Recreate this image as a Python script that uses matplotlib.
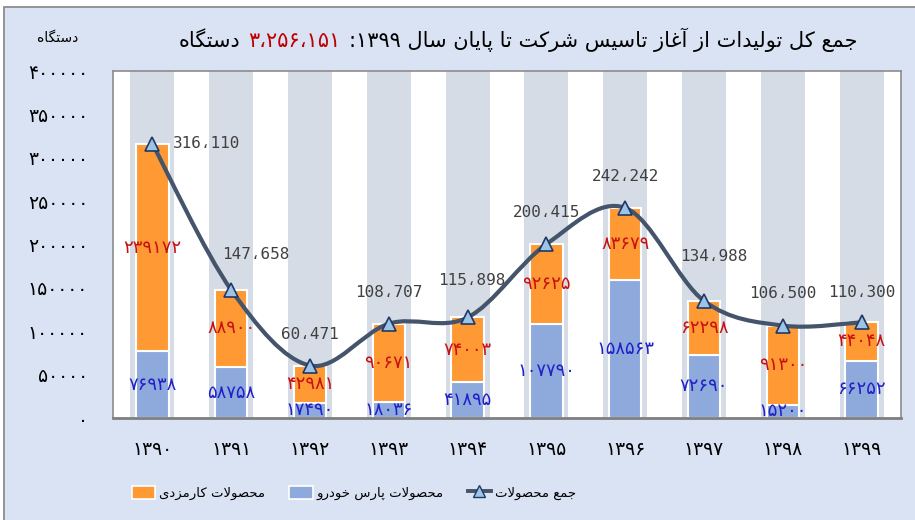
import re
import numpy as np
import matplotlib
matplotlib.use('Agg')
import matplotlib.pyplot as plt
from matplotlib.path import Path
from matplotlib.patches import PathPatch, Patch, Rectangle
from matplotlib.lines import Line2D
from matplotlib.offsetbox import TextArea, HPacker, AnnotationBbox

# ---------------- data ----------------
years = ['1390', '1391', '1392', '1393', '1394', '1395', '1396', '1397', '1398', '1399']
pars_khodro = [76938, 58758, 17490, 18036, 41895, 107790, 158563, 72690, 15200, 66252]
karmozdi = [239172, 88900, 42981, 90671, 74003, 92625, 83679, 62298, 91300, 44048]
totals = [316110, 147658, 60471, 108707, 115898, 200415, 242242, 134988, 106500, 110300]
y_ticks = [0, 50000, 100000, 150000, 200000, 250000, 300000, 350000, 400000]
title_main = 'جمع کل تولیدات از آغاز تاسیس شرکت تا پایان سال ۱۳۹۹:'
title_number = '۳،۲۵۶،۱۵۱'
title_unit = 'دستگاه'
y_unit = 'دستگاه'
legend_labels = ['محصولات کارمزدی', 'محصولات پارس خودرو', 'جمع محصولات']

# ---------------- Persian text helpers ----------------
FORMS = {
    '\u0627': ('\uFE8D', '\uFE8E', None, None),
    '\u0622': ('\uFE81', '\uFE82', None, None),
    '\u0628': ('\uFE8F', '\uFE90', '\uFE91', '\uFE92'),
    '\u067E': ('\uFB56', '\uFB57', '\uFB58', '\uFB59'),
    '\u062A': ('\uFE95', '\uFE96', '\uFE97', '\uFE98'),
    '\u062B': ('\uFE99', '\uFE9A', '\uFE9B', '\uFE9C'),
    '\u062C': ('\uFE9D', '\uFE9E', '\uFE9F', '\uFEA0'),
    '\u0686': ('\uFB7A', '\uFB7B', '\uFB7C', '\uFB7D'),
    '\u062D': ('\uFEA1', '\uFEA2', '\uFEA3', '\uFEA4'),
    '\u062E': ('\uFEA5', '\uFEA6', '\uFEA7', '\uFEA8'),
    '\u062F': ('\uFEA9', '\uFEAA', None, None),
    '\u0630': ('\uFEAB', '\uFEAC', None, None),
    '\u0631': ('\uFEAD', '\uFEAE', None, None),
    '\u0632': ('\uFEAF', '\uFEB0', None, None),
    '\u0698': ('\uFB8A', '\uFB8B', None, None),
    '\u0633': ('\uFEB1', '\uFEB2', '\uFEB3', '\uFEB4'),
    '\u0634': ('\uFEB5', '\uFEB6', '\uFEB7', '\uFEB8'),
    '\u0635': ('\uFEB9', '\uFEBA', '\uFEBB', '\uFEBC'),
    '\u0636': ('\uFEBD', '\uFEBE', '\uFEBF', '\uFEC0'),
    '\u0637': ('\uFEC1', '\uFEC2', '\uFEC3', '\uFEC4'),
    '\u0638': ('\uFEC5', '\uFEC6', '\uFEC7', '\uFEC8'),
    '\u0639': ('\uFEC9', '\uFECA', '\uFECB', '\uFECC'),
    '\u063A': ('\uFECD', '\uFECE', '\uFECF', '\uFED0'),
    '\u0641': ('\uFED1', '\uFED2', '\uFED3', '\uFED4'),
    '\u0642': ('\uFED5', '\uFED6', '\uFED7', '\uFED8'),
    '\u06A9': ('\uFB8E', '\uFB8F', '\uFB90', '\uFB91'),
    '\u06AF': ('\uFB92', '\uFB93', '\uFB94', '\uFB95'),
    '\u0644': ('\uFEDD', '\uFEDE', '\uFEDF', '\uFEE0'),
    '\u0645': ('\uFEE1', '\uFEE2', '\uFEE3', '\uFEE4'),
    '\u0646': ('\uFEE5', '\uFEE6', '\uFEE7', '\uFEE8'),
    '\u0648': ('\uFEED', '\uFEEE', None, None),
    '\u0647': ('\uFEE9', '\uFEEA', '\uFEEB', '\uFEEC'),
    '\u06CC': ('\uFBFC', '\uFBFD', '\uFBFE', '\uFBFF'),
}
LAM_ALEF = {'\u0627': ('\uFEFB', '\uFEFC'), '\u0622': ('\uFEF5', '\uFEF6')}


def shape(s):
    out = []
    i = 0
    n = len(s)
    while i < n:
        ch = s[i]
        if ch not in FORMS:
            out.append(ch)
            i += 1
            continue
        prev = s[i - 1] if i > 0 else ''
        prev_joins = prev in FORMS and FORMS[prev][2] is not None
        if ch == '\u0644' and i + 1 < n and s[i + 1] in LAM_ALEF:
            iso, fin = LAM_ALEF[s[i + 1]]
            out.append(fin if prev_joins else iso)
            i += 2
            continue
        nxt = s[i + 1] if i + 1 < n else ''
        dual = FORMS[ch][2] is not None
        next_joins = dual and nxt in FORMS
        iso, fin, ini, med = FORMS[ch]
        if prev_joins and next_joins:
            out.append(med)
        elif prev_joins:
            out.append(fin)
        elif next_joins:
            out.append(ini)
        else:
            out.append(iso)
        i += 1
    return ''.join(out)


NUM_RE = re.compile(r'[0-9\u06F0-\u06F9](?:[0-9\u06F0-\u06F9\u060C.,]*[0-9\u06F0-\u06F9])?')


def visual(s):
    shaped = shape(s)
    tokens = []
    pos = 0
    for m in NUM_RE.finditer(shaped):
        tokens.extend(list(shaped[pos:m.start()]))
        tokens.append(m.group(0))
        pos = m.end()
    tokens.extend(list(shaped[pos:]))
    return ''.join(reversed(tokens))


FA_DIGITS = str.maketrans('0123456789', '۰۱۲۳۴۵۶۷۸۹')


def fa(v):
    return str(v).translate(FA_DIGITS)


def total_fmt(v):
    return f'{v:,}'.replace(',', '\u060C')


# ---------------- style ----------------
W, H, DPI = 915, 520, 100
BG = '#DAE3F3'
ORANGE = '#FF9933'
BLUE = '#8EA9DB'
BAND = '#D6DCE5'
LINE = '#44546A'
RED_TXT = '#C81010'
BLUE_TXT = '#2020C8'
plt.rcParams['font.family'] = ['DejaVu Sans']

fig = plt.figure(figsize=(W / DPI, H / DPI), dpi=DPI)
fig.patch.set_facecolor('white')
fig.add_artist(Rectangle((4 / W, -0.05), 1.1, 1 - 7 / H + 0.05, transform=fig.transFigure,
                         facecolor=BG, edgecolor='#8C8C8C', lw=1.3, zorder=-5))

ax = fig.add_axes([113 / W, 1 - 418 / H, (901 - 113) / W, (418 - 71) / H])
ax.set_facecolor('white')
x = np.arange(len(years))
ymax = y_ticks[-1]

# background bands
ax.bar(x, [ymax] * len(x), width=0.56, color=BAND, zorder=0)

# stacked bars
ax.bar(x, pars_khodro, width=0.41, color=BLUE, edgecolor='white', lw=1.5, zorder=2)
ax.bar(x, karmozdi, bottom=pars_khodro, width=0.41, color=ORANGE, edgecolor='white', lw=1.5, zorder=2)

# segment labels
for xi, b, o in zip(x, pars_khodro, karmozdi):
    ax.text(xi, b / 2, fa(b), ha='center', va='center', fontsize=13, color=BLUE_TXT, zorder=5)
    ax.text(xi, b + o / 2, fa(o), ha='center', va='center', fontsize=13, color=RED_TXT, zorder=5)

# smooth total line (Catmull-Rom -> Bezier)
pts = np.column_stack([x, totals]).astype(float)
ext = np.vstack([pts[0], pts, pts[-1]])
verts = [tuple(pts[0])]
codes = [Path.MOVETO]
for i in range(len(pts) - 1):
    p0, p1, p2, p3 = ext[i], ext[i + 1], ext[i + 2], ext[i + 3]
    c1 = p1 + (p2 - p0) / 6.0
    c2 = p2 - (p3 - p1) / 6.0
    verts += [tuple(c1), tuple(c2), tuple(p2)]
    codes += [Path.CURVE4] * 3
ax.add_patch(PathPatch(Path(verts, codes), facecolor='none', edgecolor=LINE, lw=3.0,
                       capstyle='round', zorder=6))
ax.plot(x, totals, ls='none', marker='^', ms=10, mfc='#9DC3E6', mec='#1F3864', mew=1.2, zorder=7)

# total labels (offsets in pixels)
lab_dx = [20, 25, 0, 0, 4, 0, 0, 10, 0, 0]
lab_dy = [0, 35, 31, 31, 37, 32, 31, 44, 32, 30]
lab_ha = ['left'] + ['center'] * 9
for xi, t, dx, dy, ha in zip(x, totals, lab_dx, lab_dy, lab_ha):
    ax.annotate(total_fmt(t), (xi, t), xytext=(dx, dy), textcoords='offset pixels',
                ha=ha, va='center', fontsize=11.5,
                color='#404040', family=['DejaVu Sans Mono', 'DejaVu Sans'], zorder=8)

ax.set_xlim(-0.5, len(x) - 0.5)
ax.set_ylim(0, ymax)
ax.set_yticks(y_ticks)
ax.set_yticklabels([fa(v) for v in y_ticks], fontsize=13.5)
ax.set_xticks(x)
ax.set_xticklabels([fa(y) for y in years], fontsize=13.5)
ax.tick_params(axis='both', length=0)
ax.tick_params(axis='y', pad=18)
ax.tick_params(axis='x', pad=16)
for sp in ax.spines.values():
    sp.set_color('#8C8C8C')
    sp.set_linewidth(1.2)
ax.spines['bottom'].set_linewidth(2)
ax.spines['bottom'].set_color('#7F7F7F')

# y unit label
fig.text(58 / W, 1 - 38 / H, visual(y_unit), ha='center', va='center', fontsize=10)

# title
parts = [
    TextArea(visual(title_unit), textprops=dict(fontsize=15, color='black')),
    TextArea(title_number, textprops=dict(fontsize=15, color='#C00000')),
    TextArea(visual(title_main), textprops=dict(fontsize=15, color='black')),
]
pack = HPacker(children=parts, sep=6, pad=0, align='baseline')
fig.add_artist(AnnotationBbox(pack, (518 / W, 1 - 40 / H), xycoords='figure fraction',
                              frameon=False, box_alignment=(0.5, 0.5)))

# legend
handles = [
    Patch(facecolor=ORANGE, edgecolor='white', lw=1.2),
    Patch(facecolor=BLUE, edgecolor='white', lw=1.2),
    Line2D([], [], color=LINE, lw=2.8, marker='^', ms=8, mfc='#9DC3E6', mec='#1F3864'),
]
fig.legend(handles, [visual(s) for s in legend_labels], loc='center', ncol=3,
           bbox_to_anchor=(354 / W, 1 - 493 / H), frameon=False, fontsize=9.5,
           handlelength=1.8, handleheight=1.1, handletextpad=0.3, columnspacing=1.8)

fig.savefig('out.png', dpi=DPI, facecolor=fig.get_facecolor())
